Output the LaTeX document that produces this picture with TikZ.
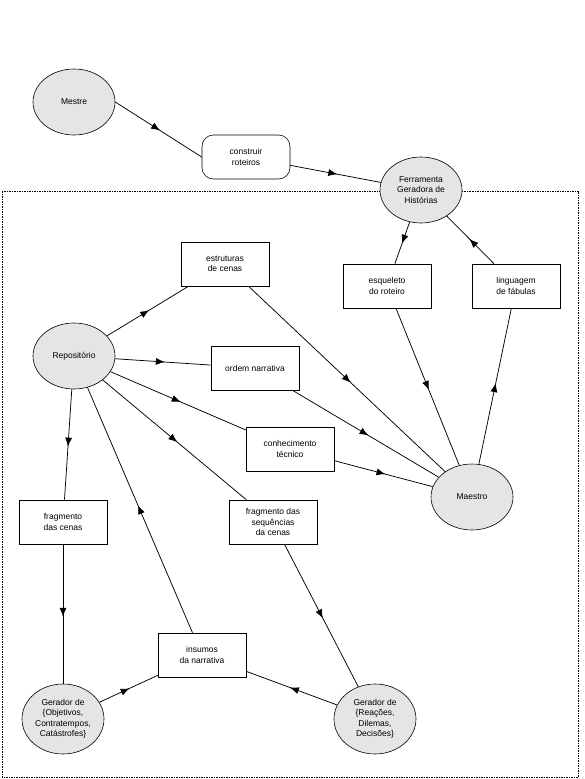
\documentclass[tikz,border=0pt]{standalone}
\usepackage{fontspec}
\setmainfont{Liberation Sans}
\usepackage{tikz}
\usetikzlibrary{shapes.geometric, arrows.meta, decorations.markings}

\begin{document}
\begin{tikzpicture}[
    x=1pt, y=-1pt,
    font=\fontsize{8.5}{10.5}\selectfont,
    % Node Styles
    actor/.style={ellipse, draw=black, fill=gray!20, line width=0.6pt, inner sep=0pt, minimum width=82pt, minimum height=66pt, align=center},
    genactor/.style={actor, minimum height=70pt},
    infobox/.style={rectangle, draw=black, fill=white, line width=0.6pt, minimum width=88pt, minimum height=44pt, align=center},
    taskbox/.style={infobox, rounded corners=4mm},
    % Arrow Styles
    flow/.style={draw, line width=0.75pt, postaction={decorate},
      decoration={markings, mark=at position 0.52 with {\arrow{Latex[length=9pt, width=7pt]}}}},
    border/.style={draw=black, line width=0.5pt, dash pattern=on 1.5pt off 1pt}
]
    \useasboundingbox (0,0) rectangle (585,779);

    % =========================================================================
    % SYSTEM BOUNDARY
    % =========================================================================
    \draw[border] (2,191) rectangle (578,777);

    % =========================================================================
    % 1. TOP: MESTRE AND STORY TOOL
    % =========================================================================
    \node (mestre)     [actor]   at (74,102)  {Mestre};
    \node (construir)  [taskbox] at (246,157) {construir\\roteiros};
    \node (ferramenta) [actor]   at (421,190) {Ferramenta\\Geradora de\\Histórias};
    \node (esqueleto)  [infobox] at (387,286) {esqueleto\\do roteiro};
    \node (linguagem)  [infobox] at (516,286) {linguagem\\de fábulas};

    % =========================================================================
    % 2. MIDDLE: REPOSITORY AND MAESTRO
    % =========================================================================
    \node (repositorio) [actor]   at (74,356)  {Repositório};
    \node (estruturas)  [infobox] at (225,264) {estruturas\\de cenas};
    \node (ordem)       [infobox] at (255,368) {ordem narrativa};
    \node (conhec)      [infobox] at (290,449) {conhecimento\\técnico};
    \node (maestro)     [actor]   at (472,497) {Maestro};
    \node (fragseq)     [infobox] at (273,522) {fragmento das\\sequências\\da cenas};
    \node (fragcenas)   [infobox] at (63,522)  {fragmento\\das cenas};

    % =========================================================================
    % 3. BOTTOM: GENERATORS
    % =========================================================================
    \node (insumos) [infobox]  at (202,655) {insumos\\da narrativa};
    \node (gerobj)  [genactor] at (63,719)  {Gerador de\\\{Objetivos,\\Contratempos,\\Catástrofes\}};
    \node (gerrea)  [genactor] at (375,719) {Gerador de\\\{Reações,\\Dilemas,\\Decisões\}};

    % =========================================================================
    % CONNECTIONS & DATAFLOW
    % =========================================================================
    \draw[flow] (mestre.east) -- (construir.west);
    \draw[flow] (construir) -- (ferramenta);
    \draw[flow] (ferramenta) -- (esqueleto);
    \draw[flow] (linguagem) -- (ferramenta);
    \draw[flow] (esqueleto) -- (maestro);
    \draw[flow] (maestro) -- (linguagem);

    % repository outputs
    \draw[flow] (repositorio) -- (estruturas);
    \draw[flow] (repositorio) -- (ordem);
    \draw[flow] (repositorio) -- (conhec);
    \draw[flow] (repositorio) -- (fragseq);
    \draw[flow] (repositorio) -- (fragcenas);

    % into maestro
    \draw[flow] (estruturas) -- (maestro);
    \draw[flow] (ordem) -- (maestro);
    \draw[flow] (conhec) -- (maestro);

    % generators loop
    \draw[flow] (fragcenas) -- (gerobj);
    \draw[flow] (fragseq) -- (gerrea);
    \draw[flow] (gerobj) -- (insumos);
    \draw[flow] (gerrea) -- (insumos);
    \draw[flow] (insumos) -- (repositorio);

\end{tikzpicture}
\end{document}
